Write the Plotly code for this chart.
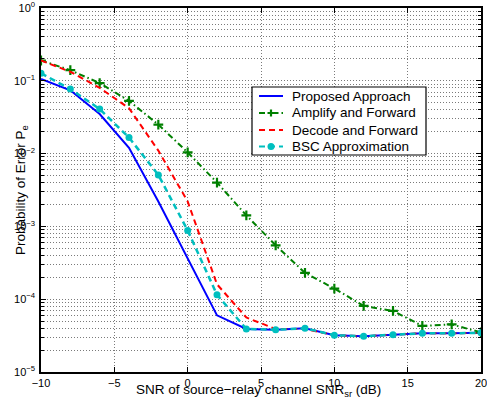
import plotly.graph_objects as go

snr = [-10, -8, -6, -4, -2, 0, 2, 4, 6, 8, 10, 12, 14, 16, 18, 20]

proposed = [0.106, 0.074, 0.035, 0.012, 0.0022, 3.7e-4, 6.0e-5, 3.9e-5, 3.8e-5, 4.0e-5,
            3.2e-5, 3.1e-5, 3.25e-5, 3.4e-5, 3.4e-5, 3.45e-5]
amplify = [0.19, 0.14, 0.093, 0.053, 0.025, 0.0104, 0.004, 1.42e-3, 5.5e-4, 2.3e-4,
           1.4e-4, 8.1e-5, 6.9e-5, 4.3e-5, 4.5e-5, 3.5e-5]
decode = [0.19, 0.133, 0.080, 0.042, 0.011, 0.0022, 1.6e-4, 5.6e-5, 3.9e-5, 3.9e-5,
          3.2e-5, 3.1e-5, 3.25e-5, 3.4e-5, 3.4e-5, 3.45e-5]
bsc = [0.127, 0.077, 0.041, 0.0166, 0.0051, 8.8e-4, 1.15e-4, 3.9e-5, 3.8e-5, 4.0e-5,
       3.2e-5, 3.1e-5, 3.25e-5, 3.4e-5, 3.4e-5, 3.45e-5]

names = ["Proposed Approach", "Amplify and Forward", "Decode and Forward", "BSC Approximation"]

y_tickvals = [1e-5, 1e-4, 1e-3, 1e-2, 1e-1, 1e0]
y_ticktext = ["10<sup>−5</sup>", "10<sup>−4</sup>", "10<sup>−3</sup>",
              "10<sup>−2</sup>", "10<sup>−1</sup>", "10<sup>0</sup>"]
x_tickvals = [-10, -5, 0, 5, 10, 15, 20]
x_ticktext = ["−10", "−5", "0", "5", "10", "15", "20"]

minor_vals = [m * 10.0 ** e for e in range(-5, 0) for m in range(2, 10)]

FONT = "Liberation Sans, Arial, sans-serif"
W, H = 487, 405
ML, MR, MT, MB = 41, 6, 8, 33
PW, PH = W - ML - MR, H - MT - MB

colors = ["#0000ff", "#008000", "#ff0000", "#00bfbf"]
dashes = ["solid", "6px,3px,1.5px,3px", "6px,4px", "6px,4px"]


def px(x):
    return (x - ML) / PW


def py(y):
    return (H - MB - y) / PH


fig = go.Figure()
fig.add_trace(go.Scatter(x=snr, y=proposed, name=names[0], mode="lines",
                         line=dict(color=colors[0], width=2)))
fig.add_trace(go.Scatter(x=snr, y=amplify, name=names[1], mode="lines+markers",
                         line=dict(color=colors[1], width=2, dash=dashes[1]),
                         marker=dict(symbol="cross-thin", size=7,
                                     line=dict(color=colors[1], width=2.2))))
fig.add_trace(go.Scatter(x=snr, y=decode, name=names[2], mode="lines",
                         line=dict(color=colors[2], width=2, dash=dashes[2])))
fig.add_trace(go.Scatter(x=snr, y=bsc, name=names[3], mode="lines+markers",
                         line=dict(color=colors[3], width=2.5, dash=dashes[3]),
                         marker=dict(symbol="circle", size=7, color=colors[3])))

grid = dict(showgrid=True, gridcolor="#7a7a7a", gridwidth=1, griddash="1px,2px")

# manual legend (box, samples, texts)
shapes = [dict(type="rect", xref="paper", yref="paper", layer="above",
               x0=px(252), x1=px(426), y0=py(155), y1=py(87),
               fillcolor="white", line=dict(color="black", width=1.2))]
annotations = []
item_y = [96, 113, 130, 146.5]
for i, nm in enumerate(names):
    yy = item_y[i]
    shapes.append(dict(type="line", xref="paper", yref="paper", layer="above",
                       x0=px(259), x1=px(283), y0=py(yy), y1=py(yy),
                       line=dict(color=colors[i], width=2, dash=dashes[i])))
    annotations.append(dict(text=nm, xref="paper", yref="paper", x=px(290), y=py(yy),
                            xanchor="left", yanchor="middle", showarrow=False,
                            font=dict(size=13.5, family=FONT)))
# legend markers
cx = px(271)
dx, dy = 3.5 / PW, 3.5 / PH
yg = py(item_y[1])
shapes.append(dict(type="path", xref="paper", yref="paper", layer="above",
                   path=f"M {cx - dx},{yg} L {cx + dx},{yg} M {cx},{yg - dy} L {cx},{yg + dy}",
                   line=dict(color=colors[1], width=2.2)))
yc = py(item_y[3])
shapes.append(dict(type="circle", xref="paper", yref="paper", layer="above",
                   x0=cx - dx, x1=cx + dx, y0=yc - dy, y1=yc + dy,
                   fillcolor=colors[3], line=dict(color=colors[3], width=0)))

annotations += [
    dict(text="SNR of source−relay channel SNR<sub>sr</sub> (dB)", xref="paper",
         yref="paper", x=0.494, y=-0.022, xanchor="center", yanchor="top",
         showarrow=False, font=dict(size=13.5, family=FONT)),
    dict(text="Probability of Error P<sub>e</sub>", xref="paper", yref="paper",
         x=-0.0455, y=0.5, xanchor="center", yanchor="middle", textangle=-90,
         showarrow=False, font=dict(size=13.5, family=FONT)),
]

fig.update_layout(
    width=W, height=H,
    margin=dict(l=ML, r=MR, t=MT, b=MB),
    paper_bgcolor="white", plot_bgcolor="white",
    font=dict(family=FONT, size=11, color="black"),
    showlegend=False,
    xaxis=dict(range=[-10, 20], tickmode="array", tickvals=x_tickvals, ticktext=x_ticktext,
               ticks="inside", ticklen=5, tickcolor="black", showline=True,
               linecolor="black", linewidth=1.5, mirror="ticks", zeroline=False,
               automargin=False, ticklabeloverflow="allow", tickfont=dict(size=11), **grid),
    yaxis=dict(type="log", range=[-5, 0], tickmode="array", tickvals=y_tickvals,
               ticktext=y_ticktext, ticks="inside", ticklen=5, tickcolor="black",
               showline=True, linecolor="black", linewidth=1.5, mirror="ticks",
               zeroline=False, automargin=False, ticklabeloverflow="allow",
               tickfont=dict(size=11), ticklabelstandoff=2,
               minor=dict(tickmode="array", tickvals=minor_vals, ticks="inside",
                          ticklen=3, tickcolor="black", **grid),
               **grid),
    shapes=shapes,
    annotations=annotations,
)

fig.write_html("out.html")
